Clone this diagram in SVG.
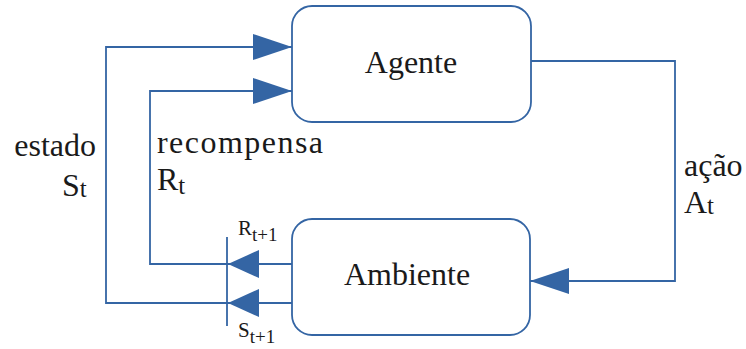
<svg xmlns="http://www.w3.org/2000/svg" width="746" height="349" viewBox="0 0 746 349">
<style>
.box{fill:#fff;stroke:#3465a4;stroke-width:1.8}
.ln{fill:none;stroke:#3465a4;stroke-width:1.8}
.t{font-family:"Liberation Serif","Times New Roman",serif;fill:#1a1a1a}
.big{font-size:32px}
.sm{font-size:21px}
</style>
<defs>
<marker id="ab" viewBox="0 0 39 26" refX="39" refY="13" markerWidth="39" markerHeight="26" markerUnits="userSpaceOnUse" orient="auto"><path d="M0,0L39,13L0,26Z" fill="#3465a4"/></marker>
<marker id="as" viewBox="0 0 31 28" refX="31" refY="14" markerWidth="31" markerHeight="28" markerUnits="userSpaceOnUse" orient="auto"><path d="M0,0L31,14L0,28Z" fill="#3465a4"/></marker>
</defs>
<g id="connectors">
<path class="ln" d="M228,303H106V47H292" marker-end="url(#ab)"/>
<path class="ln" d="M228,264H150V91H292" marker-end="url(#ab)"/>
<path class="ln" d="M531,61H675V281H530" marker-end="url(#ab)"/>
<path class="ln" d="M292,264H228" marker-end="url(#as)"/>
<path class="ln" d="M292,303H228" marker-end="url(#as)"/>
<line class="ln" x1="227" y1="237" x2="227" y2="326"/>
</g>
<g id="agente">
<rect class="box" x="292" y="6" width="239" height="116" rx="20"/>
<text class="t big" x="411" y="73" text-anchor="middle">Agente</text>
</g>
<g id="ambiente">
<rect class="box" x="292" y="219" width="238" height="116" rx="20"/>
<text class="t big" x="407" y="285" text-anchor="middle">Ambiente</text>
</g>
<g id="labels">
<text class="t big" x="96" y="156" text-anchor="end">estado</text>
<text class="t big" x="62" y="196">S<tspan font-size="25" dy="1">t</tspan></text>
<text class="t big" x="157" y="153" textLength="166" lengthAdjust="spacing">recompensa</text>
<text class="t big" x="157" y="190">R<tspan font-size="25" dy="4">t</tspan></text>
<text class="t big" x="684" y="176">ação</text>
<text class="t big" x="684" y="213">A<tspan font-size="25" dy="1">t</tspan></text>
<text class="t sm" x="238" y="235">R<tspan font-size="19" dy="6">t+1</tspan></text>
<text class="t sm" x="238" y="337">S<tspan font-size="19" dy="6">t+1</tspan></text>
</g>
</svg>
